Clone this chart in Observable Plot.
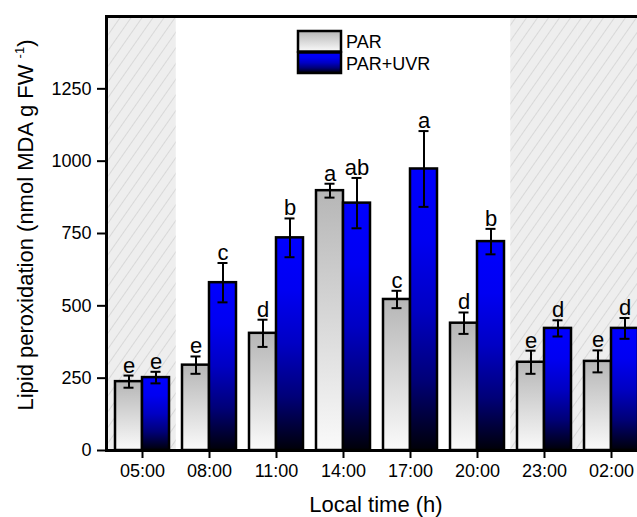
<!DOCTYPE html>
<html>
<head>
<meta charset="utf-8">
<script src="https://cdn.jsdelivr.net/npm/d3@7"></script>
<script src="https://cdn.jsdelivr.net/npm/@observablehq/plot@0.6"></script>
<style>
  html, body { margin: 0; padding: 0; overflow: hidden; background: #fff; }
  #chart svg { max-width: none !important; width: 646px !important; height: 517px !important; display: block; }
</style>
</head>
<body>
<div id="chart"></div>
<script>
// ---- data ----
const times = ["05:00", "08:00", "11:00", "14:00", "17:00", "20:00", "23:00", "02:00"];
const darkTimes = ["05:00", "23:00", "02:00"];
const parMean = [238, 295, 405, 898, 522, 440, 305, 308];
const parErr  = [21, 30, 47, 24, 30, 37, 40, 38];
const uvrMean = [252, 580, 735, 855, 973, 722, 422, 422];
const uvrErr  = [20, 68, 67, 87, 131, 44, 28, 36];
const parLetters = ["e", "e", "d", "a", "c", "d", "e", "e"];
const uvrLetters = ["e", "c", "b", "ab", "a", "b", "d", "d"];
const yTicks = [0, 250, 500, 750, 1000, 1250];
const yMax = 1500;
const seriesNames = ["PAR", "PAR+UVR"];

const par = times.map((t, i) => ({time: t, v: parMean[i], lo: parMean[i] - parErr[i], hi: parMean[i] + parErr[i], letter: parLetters[i]}));
const uvr = times.map((t, i) => ({time: t, v: uvrMean[i], lo: uvrMean[i] - uvrErr[i], hi: uvrMean[i] + uvrErr[i], letter: uvrLetters[i]}));

// ---- layout ----
const W = 646, H = 517;
const mL = 106, mR = 0, mT = 16, mB = 67;
const step = (W - mL - mR) / times.length;
const padIn = 0.2;
const bw = step * (1 - padIn);
const half = bw / 2;
const off = bw / 4;
const gap = step * padIn / 2;
const font = "'Liberation Sans', Arial, Helvetica, sans-serif";

const plot = Plot.plot({
  width: W, height: H,
  marginLeft: mL, marginRight: mR, marginTop: mT, marginBottom: mB,
  style: {fontFamily: font, fontSize: "18px", background: "white", color: "black"},
  x: {type: "band", domain: times, paddingInner: padIn, paddingOuter: padIn / 2, axis: null},
  y: {domain: [0, yMax], axis: null},
  marks: [
    Plot.barY(darkTimes, {x: d => d, y1: 0, y2: yMax, fill: "url(#hatch)", insetLeft: -gap, insetRight: -gap}),
    Plot.barY(par, {x: "time", y: "v", fill: "url(#gPAR)", stroke: "black", strokeWidth: 2.5, insetRight: half}),
    Plot.barY(uvr, {x: "time", y: "v", fill: "url(#gUVR)", stroke: "black", strokeWidth: 2.5, insetLeft: half}),
    Plot.ruleX(par, {x: "time", y1: "lo", y2: "hi", dx: -off, stroke: "black", strokeWidth: 2}),
    Plot.ruleX(uvr, {x: "time", y1: "lo", y2: "hi", dx: off, stroke: "black", strokeWidth: 2}),
    Plot.tickY(par, {x: "time", y: "hi", dx: -off, insetLeft: half - 5, insetRight: half - 5, stroke: "black", strokeWidth: 2}),
    Plot.tickY(par, {x: "time", y: "lo", dx: -off, insetLeft: half - 5, insetRight: half - 5, stroke: "black", strokeWidth: 2}),
    Plot.tickY(uvr, {x: "time", y: "hi", dx: off, insetLeft: half - 5, insetRight: half - 5, stroke: "black", strokeWidth: 2}),
    Plot.tickY(uvr, {x: "time", y: "lo", dx: off, insetLeft: half - 5, insetRight: half - 5, stroke: "black", strokeWidth: 2}),
    Plot.text(par, {x: "time", y: "hi", text: "letter", dx: -off, dy: -3, lineAnchor: "bottom", fontSize: 22, fill: "black"}),
    Plot.text(uvr, {x: "time", y: "hi", text: "letter", dx: off, dy: -3, lineAnchor: "bottom", fontSize: 22, fill: "black"}),
    Plot.frame({stroke: "black", strokeWidth: 3}),
    Plot.axisY({ticks: yTicks, tickFormat: d3.format("d"), tickSize: 9, tickPadding: 6, strokeWidth: 2, label: null, fontSize: 18}),
    Plot.axisX({tickSize: 8, tickPadding: 6, strokeWidth: 2, label: null, fontSize: 18})
  ]
});

const svg = d3.select(plot);
const defs = svg.insert("defs", ":first-child");

// hatch pattern
const pat = defs.append("pattern").attr("id", "hatch").attr("patternUnits", "userSpaceOnUse")
  .attr("width", 9).attr("height", 9).attr("patternTransform", "rotate(35)");
pat.append("rect").attr("width", 9).attr("height", 9).attr("fill", "#eeeeee");
pat.append("line").attr("x1", 0).attr("y1", 0).attr("x2", 0).attr("y2", 9)
  .attr("stroke", "#c6c6c6").attr("stroke-width", 1.1);

// gradients
const gPar = defs.append("linearGradient").attr("id", "gPAR").attr("x1", 0).attr("y1", 0).attr("x2", 0).attr("y2", 1);
gPar.append("stop").attr("offset", 0).attr("stop-color", "#b6b6b6");
gPar.append("stop").attr("offset", 1).attr("stop-color", "#fafafa");
const gUvr = defs.append("linearGradient").attr("id", "gUVR").attr("x1", 0).attr("y1", 0).attr("x2", 0).attr("y2", 1);
[[0, "#0000ff"], [0.25, "#0000f2"], [0.5, "#0000c4"], [0.75, "#000078"], [1, "#000008"]]
  .forEach(([o, c]) => gUvr.append("stop").attr("offset", o).attr("stop-color", c));

// axis titles
const xs = plot.scale("x").range;
const xc = (xs[0] + xs[1]) / 2;
svg.append("text").attr("x", xc).attr("y", 512).attr("text-anchor", "middle")
  .attr("font-family", font).attr("font-size", 22).attr("fill", "black").text("Local time (h)");

const yt = svg.append("text").attr("transform", "translate(33,225) rotate(-90)").attr("text-anchor", "middle")
  .attr("font-family", font).attr("font-size", 22).attr("fill", "black");
yt.append("tspan").text("Lipid peroxidation (nmol MDA g FW ");
yt.append("tspan").attr("font-size", 13).attr("dy", -9).text("-1");
yt.append("tspan").attr("dy", 9).text(")");

// legend
const lg = svg.append("g").attr("text-anchor", "start");
const fills = ["url(#gPAR)", "url(#gUVR)"];
const boxY = [31, 52.5];
const txtY = [48, 70];
seriesNames.forEach((n, i) => {
  lg.append("rect").attr("x", 298).attr("y", boxY[i]).attr("width", 43).attr("height", 20.5)
    .attr("fill", fills[i]).attr("stroke", "black").attr("stroke-width", 2.5);
  lg.append("text").attr("x", 346).attr("y", txtY[i]).attr("text-anchor", "start").attr("font-family", font).attr("font-size", 18)
    .attr("fill", "black").text(n);
});

document.getElementById("chart").appendChild(plot);
</script>
</body>
</html>
